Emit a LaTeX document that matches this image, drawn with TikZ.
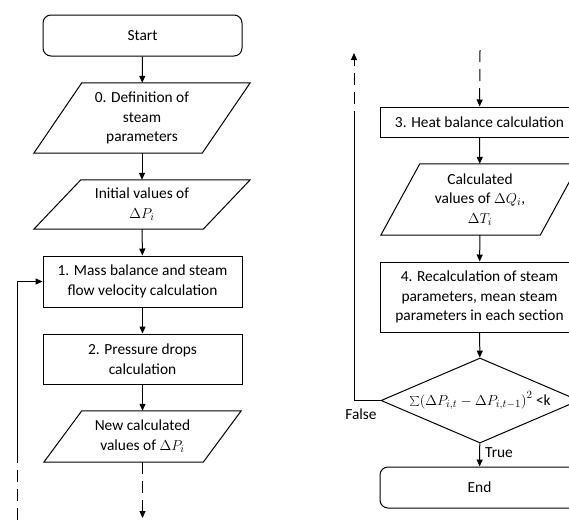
\documentclass[tikz,border=0pt]{standalone}
\usepackage{fontspec}
\setmainfont{Carlito}
\usetikzlibrary{shapes.geometric,arrows.meta,calc}
\begin{document}
\begin{tikzpicture}[x=1pt,y=-1pt,
  every node/.style={font=\fontsize{15.4}{19.7}\selectfont, align=center, inner sep=0pt},
  line/.style={line width=1pt},
  arr/.style={line width=1pt,-{Triangle[length=7pt,width=6pt]}},
  dsh/.style={dash pattern=on 12pt off 7pt},
  proc/.style={draw, line width=1pt, minimum width=199pt},
  term/.style={draw, line width=1pt, minimum width=199pt, minimum height=41pt, rounded corners=8pt},
  iobox/.style={minimum width=#1},
]
\useasboundingbox (0,0) rectangle (569,520);
\newcommand{\parabox}[2]{\draw[line width=1pt] ([xshift=#2]#1.north west) -- (#1.north east) -- ([xshift=-#2]#1.south east) -- (#1.south west) -- cycle;}
% left column
\node[term] (start) at (142.5,35.5) {Start};
\node[iobox=216pt, minimum height=70pt] (p0) at (142,118) {0. Definition of\\steam\\parameters};
\parabox{p0}{48pt}
\node[iobox=216pt, minimum height=49pt] (pi) at (142,204.5) {Initial values of\\$\Delta P_i$};
\parabox{pi}{47pt}
\node[proc, minimum height=51pt] (b1) at (142.5,281.5) {1. Mass balance and steam\\flow velocity calculation};
\node[proc, minimum height=50pt] (b2) at (142.5,359) {2. Pressure drops\\calculation};
\node[iobox=197pt, minimum height=51pt] (pn) at (142.5,436.5) {New calculated\\values of $\Delta P_i$};
\parabox{pn}{38pt}
\coordinate (lout) at (142.5,518);
\draw[arr] (start) -- (p0);
\draw[arr] (p0) -- (pi);
\draw[arr] (pi) -- (b1);
\draw[arr] (b1) -- (b2);
\draw[arr] (b2) -- (pn);
\draw[arr,dsh] (pn) -- (lout);
\coordinate (lb) at (17,520);
\coordinate (lm) at (17,452);
\coordinate (lt) at (17,281.5);
\draw[line,dsh] (lb) -- (lm);
\draw[arr] (lm) -- (lt) -- (b1.west);
% right column
\coordinate (rin) at (480,50);
\node[proc, minimum height=30pt] (b3) at (479.5,122) {3. Heat balance calculation};
\node[iobox=198pt, minimum height=71pt] (pc) at (480,199.5) {Calculated\\values of $\Delta Q_i$,\\$\Delta T_i$};
\parabox{pc}{39pt}
\node[proc, minimum height=70pt] (b4) at (479.5,297) {4. Recalculation of steam\\parameters, mean steam\\parameters in each section};
\node[diamond, draw, line width=1pt, minimum width=198pt, minimum height=85pt] (d) at (480,400.5) {};
\node at (d) {$\mathop{\textstyle\sum}\Bigl(\Delta P_{i,t}-\Delta P_{i,t-1}\Bigr)^2$ <k};
\node[term] (end) at (479.5,487.5) {End};
\draw[arr,dsh] (rin) -- (b3);
\draw[arr] (b3) -- (pc);
\draw[arr] (pc) -- (b4);
\draw[arr] (b4) -- (d);
\draw[arr] (d) -- node[right=5pt, pos=0.4] {True} (end);
\coordinate (rm) at (354,400.5);
\coordinate (rs) at (354,123);
\coordinate (rtop) at (354,53);
\draw[line] (d.west) -- (rm) -- (rs);
\draw[arr,dsh] (rs) -- (rtop);
\node (false) at (361,414) {False};
\end{tikzpicture}
\end{document}
